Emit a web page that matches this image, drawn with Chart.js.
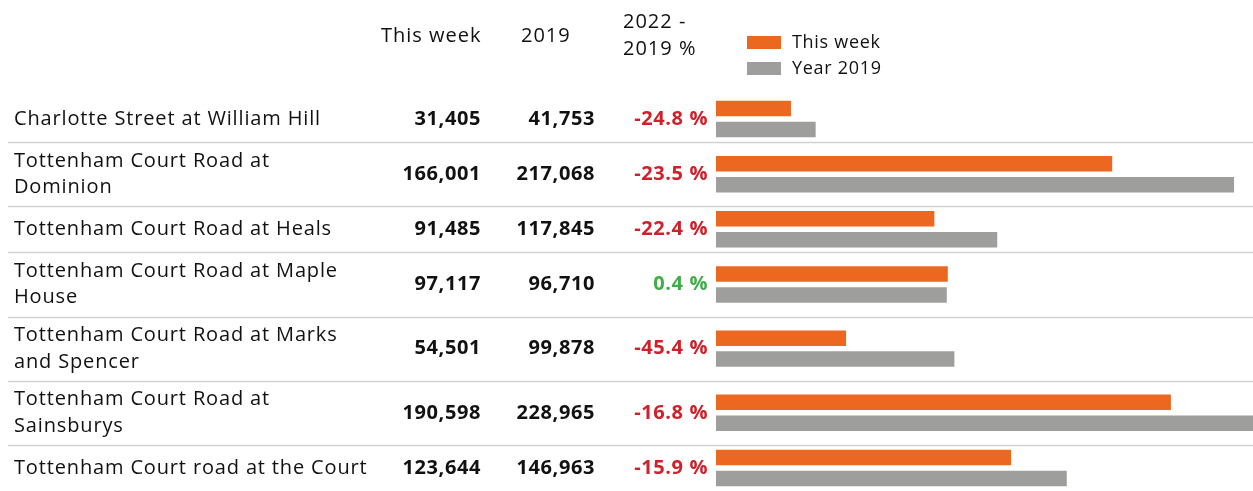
<!DOCTYPE html>
<html>
<head>
<meta charset="utf-8">
<script src="https://cdn.jsdelivr.net/npm/chart.js@4.4.1/dist/chart.umd.min.js"></script>
<style>
  html, body { margin: 0; padding: 0; background: #fff; }
  #chart { display: block; }
</style>
</head>
<body>
<canvas id="chart" width="1253" height="491"></canvas>
<script>
// data
const stations = [
    ['Charlotte Street at William Hill'],
    ['Tottenham Court Road at', 'Dominion'],
    ['Tottenham Court Road at Heals'],
    ['Tottenham Court Road at Maple', 'House'],
    ['Tottenham Court Road at Marks', 'and Spencer'],
    ['Tottenham Court Road at', 'Sainsburys'],
    ['Tottenham Court road at the Court']
];
const thisWeek = [31405, 166001, 91485, 97117, 54501, 190598, 123644];
const year2019 = [41753, 217068, 117845, 96710, 99878, 228965, 146963];
const changePct = [-24.8, -23.5, -22.4, 0.4, -45.4, -16.8, -15.9];
const headers = [['This week'], ['2019'], ['2022 -', '2019 %']];
const seriesNames = ['This week', 'Year 2019'];

const FONT = '"Open Sans", "Noto Sans", sans-serif';
const LINE_H = 18, ROW_PAD = 28;

// category scale whose rows grow with the number of label lines
class RowScale extends Chart.CategoryScale {
    static id = 'rows';
    static defaults = Chart.CategoryScale.defaults;
    rowSizes() {
        return this.getLabels().map(l => (Array.isArray(l) ? l.length : 1) * LINE_H + ROW_PAD);
    }
    getPixelForValue(value) {
        if (typeof value !== 'number') value = this.parse(value);
        if (value === null || isNaN(value)) return NaN;
        const sizes = this.rowSizes();
        const total = sizes.reduce((a, b) => a + b, 0);
        const i = Math.min(sizes.length - 1, Math.max(0, Math.floor(value + 0.5)));
        let acc = 0;
        for (let k = 0; k < i; k++) acc += sizes[k];
        acc += (value - i + 0.5) * sizes[i];
        return this.getPixelForDecimal(acc / total);
    }
}
Chart.register(RowScale);

const fmt = v => v.toLocaleString('en-US');

function setFont(c, font, spacing) {
    c.font = font;
    if ('letterSpacing' in c) c.letterSpacing = spacing + 'px';
}

const tablePlugin = {
    id: 'table',
    beforeDatasetsDraw(chart) {
        const c = chart.ctx, y = chart.scales.y;
        c.save();
        c.strokeStyle = '#d2d2d2';
        c.lineWidth = 1.5;
        for (let i = 0; i < stations.length - 1; i++) {
            const py = Math.round(y.getPixelForValue(i + 0.5)) + 0.5;
            c.beginPath();
            c.moveTo(8, py);
            c.lineTo(chart.width, py);
            c.stroke();
        }
        c.restore();
    },
    afterDraw(chart) {
        const c = chart.ctx, y = chart.scales.y;
        c.save();
        c.textBaseline = 'middle';

        // header
        c.fillStyle = '#111';
        setFont(c, '20px ' + FONT, 1);
        c.textAlign = 'left';
        const headX = [381, 521, 623];
        headers.forEach((h, k) => {
            const y0 = h.length === 1 ? 36 : 22;
            h.forEach((line, j) => c.fillText(line, headX[k], y0 + j * 27));
        });

        // legend
        const ds = chart.data.datasets;
        setFont(c, '18px ' + FONT, 0.7);
        ds.forEach((d, k) => {
            const cy = 42.5 + k * 26;
            c.fillStyle = d.backgroundColor;
            c.fillRect(747, cy - 6.5, 34, 13);
            c.fillStyle = '#111';
            c.fillText(d.label, 792, cy);
        });

        // rows
        stations.forEach((lines, i) => {
            const cy = y.getPixelForValue(i);
            c.textAlign = 'left';
            c.fillStyle = '#111';
            setFont(c, '20px ' + FONT, 0.85);
            const top = cy - (lines.length - 1) * 26.5 / 2;
            lines.forEach((line, j) => c.fillText(line, 14, top + j * 26.5));

            c.textAlign = 'right';
            setFont(c, 'bold 20px ' + FONT, 0.6);
            c.fillText(fmt(thisWeek[i]), 481, cy);
            c.fillText(fmt(year2019[i]), 595, cy);
            c.fillStyle = changePct[i] < 0 ? '#d0202a' : '#3fae49';
            c.fillText(changePct[i].toFixed(1) + ' %', 708, cy);
        });
        c.restore();
    }
};

const ctx = document.getElementById('chart');
const mainChart = new Chart(ctx, {
    type: 'bar',
    data: {
        labels: stations,
        datasets: [
            { label: seriesNames[0], data: thisWeek, backgroundColor: '#ec671f' },
            { label: seriesNames[1], data: year2019, backgroundColor: '#9e9e9c' }
        ]
    },
    options: {
        indexAxis: 'y',
        responsive: false,
        animation: false,
        events: [],
        categoryPercentage: 0.76,
        barPercentage: 0.74,
        layout: { padding: { left: 716, top: 96, right: 0, bottom: 0 } },
        scales: {
            y: { type: 'rows', display: false },
            x: { display: false, min: 0, max: 225000 }
        },
        plugins: {
            legend: { display: false },
            tooltip: { enabled: false }
        }
    },
    plugins: [tablePlugin]
});
</script>
</body>
</html>
